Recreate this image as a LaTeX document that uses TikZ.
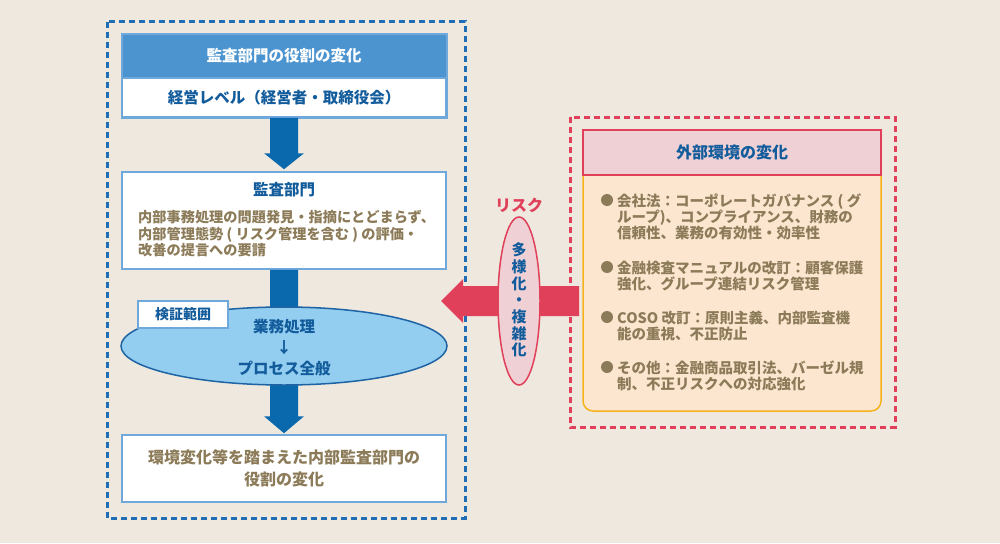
\documentclass[tikz,border=0pt]{standalone}
\usepackage{fontspec}
\setmainfont{Noto Sans CJK JP}
\usetikzlibrary{calc,shapes.geometric}
\definecolor{bg}{HTML}{EEE8DE}
\definecolor{dashblue}{HTML}{1F6DB5}
\definecolor{hdrblue}{HTML}{4B94CF}
\definecolor{lightblue}{HTML}{6FA8DA}
\definecolor{txtblue}{HTML}{135C9C}
\definecolor{arrowblue}{HTML}{0A68AD}
\definecolor{brown}{HTML}{8C7B58}
\definecolor{ellfill}{HTML}{93CDF0}
\definecolor{ellline}{HTML}{1E63A4}
\definecolor{rred}{HTML}{E0405A}
\definecolor{pinkfill}{HTML}{EFD1D5}
\definecolor{orfill}{HTML}{FCE6D0}
\definecolor{orline}{HTML}{F7B21B}
\newcommand{\myfs}[2]{\fontsize{#1}{#2}\selectfont}
\begin{document}
\begin{tikzpicture}[x=1pt,y=-1pt,
  whitebox/.style={draw=lightblue,line width=1.5pt,fill=white,minimum width=324pt,inner sep=0pt},
  bluetitle/.style={text=txtblue,font=\myfs{15.5}{18}\bfseries},
  browntext/.style={text=brown,font=\myfs{14.2}{16.5}\bfseries,align=left,inner sep=0pt},
  exttext/.style={text=brown,font=\myfs{14.5}{16}\bfseries,align=left,inner sep=0pt,anchor=west},
  bulletdot/.style={fill=brown,circle,inner sep=0pt,minimum size=12pt},
  bluedash/.style={draw=dashblue,line width=3pt,dash pattern=on 6pt off 4pt},
  reddash/.style={draw=rred,line width=3pt,dash pattern=on 6pt off 4pt}]
\useasboundingbox (0,0) rectangle (1000,543);
\fill[bg] (0,0) rectangle (1000,543);
% left frame
\draw[bluedash] (107,22) rectangle (465,518);
\node[fill=hdrblue,minimum width=324pt,minimum height=44pt,inner sep=0pt,text=white,font=\myfs{15.5}{18}\bfseries] (head) at (284,56) {監査部門の役割の変化};
\node[whitebox,minimum height=39pt,bluetitle] (level) at (284,97.5) {経営レベル（経営者・取締役会）};
\draw[lightblue,line width=1.5pt] (head.north west) rectangle (level.south east);
\node[whitebox,minimum height=97pt] (dept) at (284,220.5) {};
\node[bluetitle] (depttitle) at (284,190) {監査部門};
\node[browntext,anchor=west] (depttext) at (138,234) {内部事務処理の問題発見・指摘にとどまらず、\\内部管理態勢 ( リスク管理を含む ) の評価・\\改善の提言への要請};
\node[whitebox,minimum height=67pt,text=brown,font=\myfs{16}{22}\bfseries,align=center] (final) at (284,468.5) {環境変化等を踏まえた内部監査部門の\\役割の変化};
% arrows
\fill[arrowblue] ($(level.south)+(-14,0)$) -- ($(dept.north)+(-14,-18)$) -- ($(dept.north)+(-20,-18)$) -- ($(dept.north)+(0,-2)$) -- ($(dept.north)+(20,-18)$) -- ($(dept.north)+(14,-18)$) -- ($(level.south)+(14,0)$) -- cycle;
\fill[arrowblue] ($(dept.south)+(-14,0)$) -- ($(final.north)+(-14,-18)$) -- ($(final.north)+(-20,-18)$) -- ($(final.north)+(0,-1)$) -- ($(final.north)+(20,-18)$) -- ($(final.north)+(14,-18)$) -- ($(dept.south)+(14,0)$) -- cycle;
\node[ellipse,draw=ellline,line width=1.5pt,fill=ellfill,minimum width=326pt,minimum height=78pt,inner sep=0pt] (scope) at (284,346) {};
\node[text=txtblue,font=\myfs{15.5}{21}\bfseries,align=center] (scopetext) at (284,348) {業務処理\\↓\\プロセス全般};
\node[draw=lightblue,line width=1.5pt,fill=white,minimum width=90pt,minimum height=27pt,inner sep=0pt,text=txtblue,font=\myfs{14}{16}\bfseries] (kensho) at (183,314.5) {検証範囲};
% right frame
\draw[reddash] (570,117) rectangle (895,427);
\node[draw=orline,line width=1.5pt,fill=orfill,rounded corners=10pt,minimum width=298pt,minimum height=281pt,inner sep=0pt] (ext) at (732,270.5) {};
\node[draw=rred,line width=1.5pt,fill=pinkfill,minimum width=298pt,minimum height=45pt,inner sep=0pt,text=txtblue,font=\myfs{16}{18}\bfseries] (exthead) at (732,152.5) {外部環境の変化};
\node[bulletdot] (b1) at (607,200) {};
\node[exttext] (t1) at (617,216.5) {会社法：コーポレートガバナンス ( グ\\ループ)、コンプライアンス、財務の\\信頼性、業務の有効性・効率性};
\node[bulletdot] (b2) at (607,267) {};
\node[exttext] (t2) at (617,275.5) {金融検査マニュアルの改訂：顧客保護\\強化、グループ連結リスク管理};
\node[bulletdot] (b3) at (607,317) {};
\node[exttext] (t3) at (617,325.5) {COSO 改訂：原則主義、内部監査機\\能の重視、不正防止};
\node[bulletdot] (b4) at (607,367) {};
\node[exttext] (t4) at (617,375.5) {その他：金融商品取引法、バーゼル規\\制、不正リスクへの対応強化};
% red arrow
\coordinate (rtail) at (579,301);
\coordinate (rtip) at (441,301);
\fill[rred] (rtail) ++(0,-15) -- ($(rtip)+(22,-15)$) -- ($(rtip)+(22,-22)$) -- (rtip) -- ($(rtip)+(22,22)$) -- ($(rtip)+(22,15)$) -- ($(rtail)+(0,15)$) -- cycle;
\node[ellipse,draw=rred,line width=1.5pt,fill=pinkfill,minimum width=42pt,minimum height=168pt,inner sep=0pt] (risk) at (519,301) {};
\node[text=txtblue,font=\myfs{15}{16.7}\bfseries,align=center,inner sep=0pt] (risktext) at (519,300) {多\\様\\化\\・\\複\\雑\\化};
\node[text=rred,font=\myfs{16}{18}\bfseries] (risklabel) at (519,205) {リスク};
\end{tikzpicture}
\end{document}
